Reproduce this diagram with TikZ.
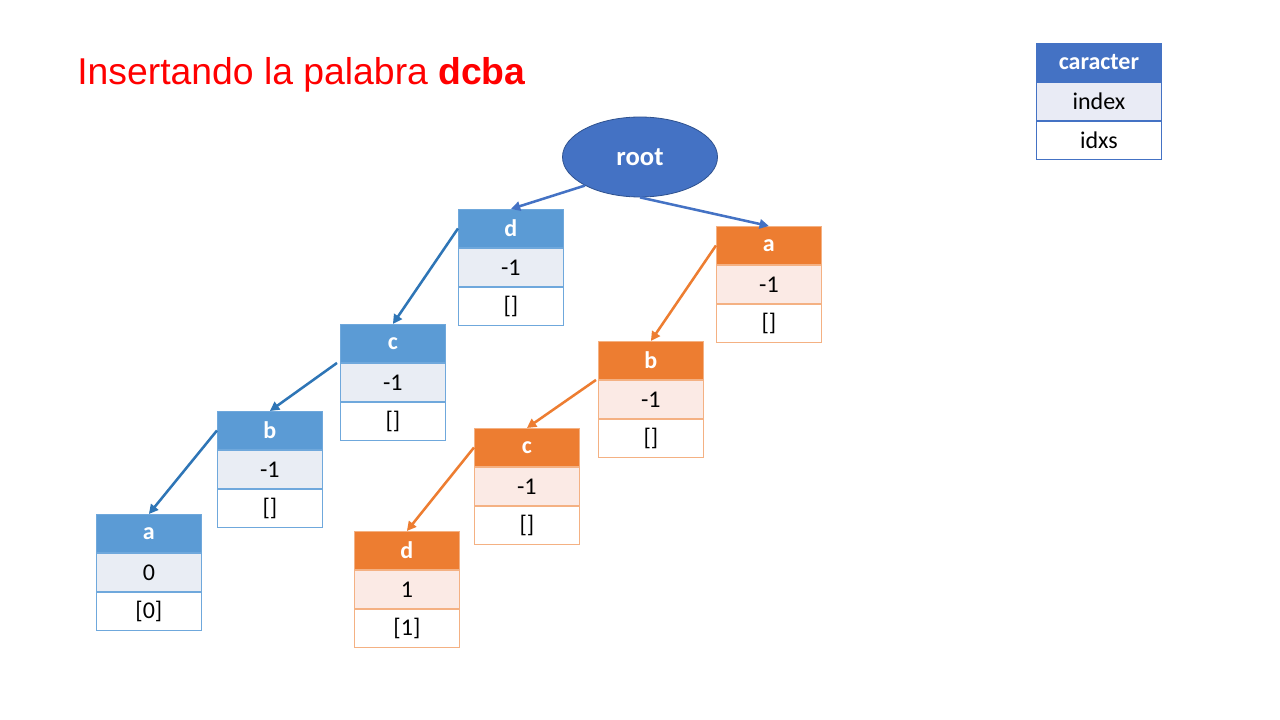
\documentclass[tikz,border=0pt]{standalone}
\usepackage{fontspec}
\setmainfont{Carlito}
\newfontfamily\arialf{Liberation Sans}
\usetikzlibrary{arrows.meta,shapes.geometric}
\definecolor{bhead}{HTML}{5B9BD5}
\definecolor{bmid}{HTML}{E9EDF4}
\definecolor{bline}{HTML}{6FA8DC}
\definecolor{ohead}{HTML}{ED7D31}
\definecolor{omid}{HTML}{FBEAE5}
\definecolor{oline}{HTML}{F4B183}
\definecolor{lhead}{HTML}{4472C4}
\definecolor{lmid}{HTML}{E9EBF5}
\definecolor{rootline}{HTML}{2F528F}
\definecolor{chainblue}{HTML}{2E75B6}
\definecolor{titlered}{HTML}{FF0000}
\newcommand\tbox[7]{%
  \node[#7h, anchor=north west] (#1-h) at (#2,#3) {#4};
  \node[#7m, anchor=north] (#1-m) at (#1-h.south) {#5};
  \node[#7b, anchor=north] (#1-b) at (#1-m.south) {#6};
}
\tikzset{
  cell/.style={rectangle, minimum width=78.75pt, minimum height=28.6pt, inner sep=0pt,
    font=\fontsize{18}{20}\selectfont, line width=0.6pt},
  bh/.style={cell, fill=bhead, draw=bline, text=white, font=\fontsize{18}{20}\selectfont\bfseries},
  bm/.style={cell, fill=bmid, draw=bline},
  bb/.style={cell, fill=white, draw=bline},
  oh/.style={cell, fill=ohead, draw=oline, text=white, font=\fontsize{18}{20}\selectfont\bfseries},
  om/.style={cell, fill=omid, draw=oline},
  ob/.style={cell, fill=white, draw=oline},
  lh/.style={cell, minimum width=93.75pt, fill=lhead, draw=lhead, text=white, font=\fontsize{18}{20}\selectfont\bfseries},
  lm/.style={cell, minimum width=93.75pt, fill=lmid, draw=lhead},
  lb/.style={cell, minimum width=93.75pt, fill=white, draw=lhead},
  conn/.style={line width=1.9pt, -{Triangle[length=7pt,width=7pt]}},
}
\begin{document}
\begin{tikzpicture}[x=0.75pt, y=-0.75pt]
\useasboundingbox (0,0) rectangle (1280,720);
\fill[white] (0,0) rectangle (1280,720);
\node[anchor=base west, inner sep=0pt, text=titlered, font=\arialf\fontsize{28}{32}\selectfont] (title) at (77,85) {Insertando la palabra \textbf{dcba}};
% legend
\tbox{leg}{1036}{43}{caracter}{index}{idxs}{l}
% root
\node[ellipse, minimum width=116.25pt, minimum height=60pt, inner sep=0pt, fill=lhead, draw=rootline, line width=0.6pt, text=white, font=\fontsize{20}{24}\selectfont\bfseries] (root) at (640,157) {root};
% blue chain
\tbox{bd}{458}{209}{d}{-1}{[]}{b}
\tbox{bc}{340}{324}{c}{-1}{[]}{b}
\tbox{bbx}{217}{411}{b}{-1}{[]}{b}
\tbox{ba}{96}{514}{a}{0}{[0]}{b}
% orange chain
\tbox{oa}{716}{226}{a}{-1}{[]}{o}
\tbox{obx}{598}{341}{b}{-1}{[]}{o}
\tbox{oc}{474}{428}{c}{-1}{[]}{o}
\tbox{od}{354}{531}{d}{1}{[1]}{o}
% connectors
\draw[conn, lhead] (root.south west) -- (bd-h.north);
\draw[conn, lhead] (root.south) -- (oa-h.north);
\draw[conn, chainblue] (bd-h.west) -- (bc-h.north);
\draw[conn, chainblue] ([xshift=-2.25pt]bc-h.south west) -- (bbx-h.north);
\draw[conn, chainblue] (bbx-h.west) -- (ba-h.north);
\draw[conn, ohead] (oa-h.west) -- (obx-h.north);
\draw[conn, ohead] ([xshift=-1.5pt]obx-h.south west) -- (oc-h.north);
\draw[conn, ohead] (oc-h.west) -- (od-h.north);
\end{tikzpicture}
\end{document}
